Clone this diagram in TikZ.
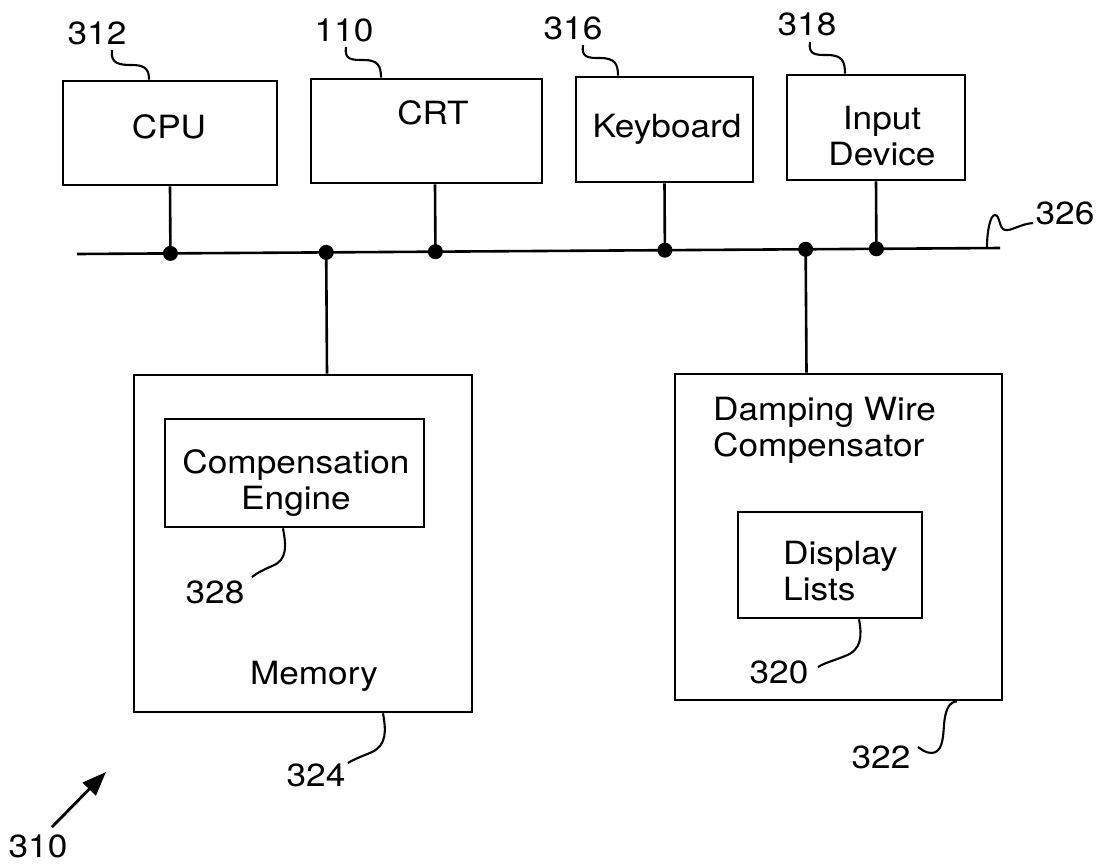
\documentclass[tikz,border=0pt]{standalone}
\usepackage{fontspec}
\setmainfont{TeX Gyre Heros}[FakeStretch=1.1]
\usetikzlibrary{calc,arrows.meta}
\begin{document}
\begin{tikzpicture}[x=1pt,y=-1pt,
  box/.style={draw, line width=2.6pt, inner sep=0pt},
  txt/.style={inner sep=0pt, font=\fontsize{32}{36}\selectfont},
  wire/.style={line width=2.6pt},
  leader/.style={line width=2.1pt},
  junction/.style={fill=black}]
\useasboundingbox (0,0) rectangle (1102,863);

% boxes
\node[box, minimum width=214pt, minimum height=104pt] (cpu) at (170,133) {};
\node[box, minimum width=231pt, minimum height=104pt] (crt) at (426.5,131) {};
\node[box, minimum width=177pt, minimum height=105pt] (kbd) at (664.5,129.5) {};
\node[box, minimum width=178pt, minimum height=105pt] (inp) at (876,127.5) {};
\node[box, minimum width=338pt, minimum height=337pt] (mem) at (303,543.5) {};
\node[box, minimum width=259pt, minimum height=108pt] (eng) at (294.5,473) {};
\node[box, minimum width=327pt, minimum height=326pt] (dwc) at (838.5,537) {};
\node[box, minimum width=184pt, minimum height=106pt] (dsp) at (830,565) {};

% box texts
\node[txt, anchor=base] (tcpu) at (169,138) {CPU};
\node[txt, anchor=base] (tcrt) at (433,124) {CRT};
\node[txt, anchor=base] (tkbd) at (667,137) {Keyboard};
\node[txt, anchor=north, align=center] (tinp) at (882,106) {Input\\Device};
\node[txt, anchor=north, align=center] (teng) at (296,449) {Compensation\\Engine};
\node[txt, anchor=base] (tmem) at (314,684) {Memory};
\node[txt, anchor=north west, align=left] (tdwc) at (713,397) {Damping Wire\\Compensator};
\node[txt, anchor=north west, align=left] (tdsp) at (783,541) {Display\\Lists};

% reference numerals
\node[txt] (n312) at (97,33) {312};
\node[txt] (n110) at (344,30) {110};
\node[txt] (n316) at (573,28) {316};
\node[txt] (n318) at (807,24) {318};
\node[txt] (n326) at (1065,213) {326};
\node[txt] (n328) at (215,592) {328};
\node[txt] (n324) at (316,775) {324};
\node[txt] (n320) at (779,672) {320};
\node[txt] (n322) at (881,757) {322};
\node[txt] (n310) at (38,846) {310};

% bus
\coordinate (busL) at (77,254);
\coordinate (busR) at (1000,248);
\draw[wire] (busL) -- (busR);

% connector end points on boxes
\coordinate (cpuT) at (cpu.south);
\coordinate (crtT) at ([xshift=8.5pt]crt.south);
\coordinate (kbdT) at (kbd.south);
\coordinate (inpT) at (inp.south);
\coordinate (memT) at ([xshift=24pt]mem.north);
\coordinate (dwcT) at ([xshift=-32pt]dwc.north);

\foreach \c in {cpuT,crtT,kbdT,inpT,memT,dwcT}{
  \coordinate (\c J) at ($(busL)!(\c)!(busR)$);
  \draw[wire] (\c) -- (\c J);
  \fill[junction] (\c J) circle (7.5pt);
}

% leader lines
\draw[leader] (112,50) .. controls (110,64) and (120,65) .. (132,65)
  .. controls (146,65) and (149,70) .. (cpu.north -| 149,0);
\draw[leader] (346,47) .. controls (344,60) and (352,60) .. (364,60)
  .. controls (378,60) and (381,66) .. (crt.north -| 381,0);
\draw[leader] (583,45) .. controls (581,58) and (589,58) .. (600,58)
  .. controls (615,58) and (618,64) .. (kbd.north -| 618,0);
\draw[leader] (810,42) .. controls (808,55) and (816,55) .. (827,55)
  .. controls (842,55) and (845,61) .. (inp.north -| 845,0);
\coordinate (b326) at ($(busL)!(987,247)!(busR)$);
\draw[leader] (b326) .. controls (987,232) and (990,215) .. (995,215)
  .. controls (1000,215) and (999,229) .. (1005,230)
  .. controls (1012,231) and (1020,224) .. (1033,223);
\draw[leader] (eng.south -| 283,0) .. controls (286,545) and (288,560) .. (272,566)
  .. controls (263,570) and (257,573) .. (252,577);
\draw[leader] (mem.south -| 383,0) .. controls (386,730) and (387,745) .. (372,752)
  .. controls (363,756) and (354,759) .. (348,763);
\draw[leader] (dsp.south -| 859,0) .. controls (862,635) and (862,650) .. (845,656)
  .. controls (833,661) and (824,663) .. (818,667);
\draw[leader] (dwc.south -| 957,0) .. controls (948,702) and (945,712) .. (944,725)
  .. controls (943,740) and (942,752) .. (932,753)
  .. controls (925,753) and (921,749) .. (918,747);

% arrow 310
\coordinate (a310s) at (52,827);
\coordinate (a310e) at (106,772);
\draw[line width=2.8pt, -{Triangle[length=24pt,width=18pt]}] (a310s) -- (a310e);
\end{tikzpicture}
\end{document}
